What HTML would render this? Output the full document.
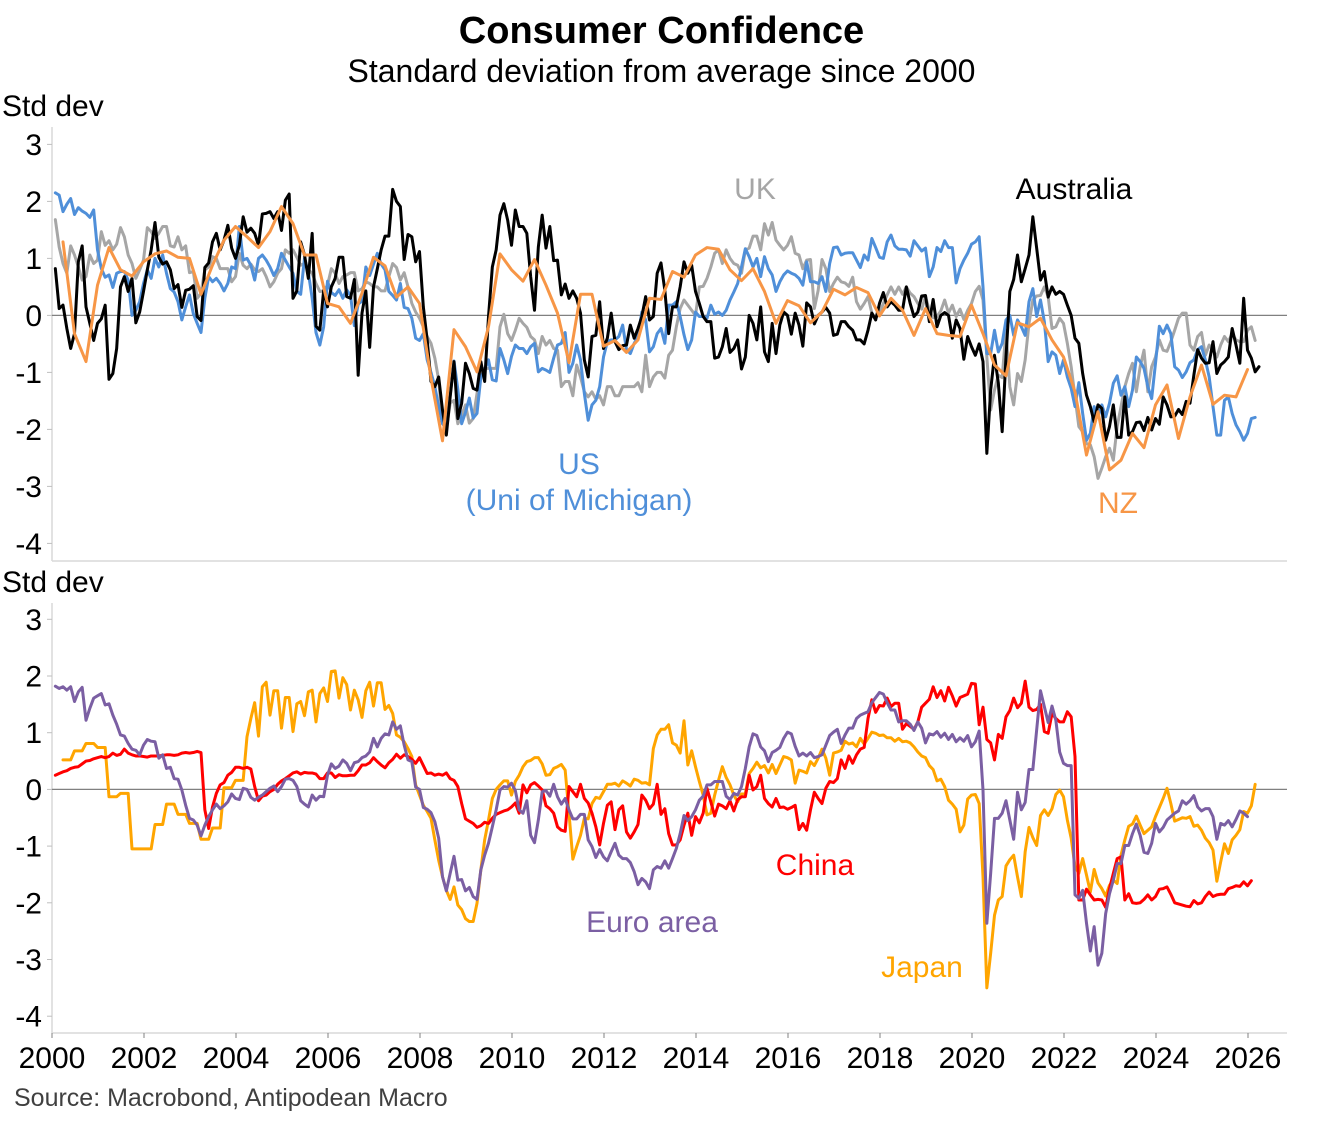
<!DOCTYPE html>
<html lang="en">
<head>
<meta charset="utf-8">
<title>Consumer Confidence</title>
<style>
html,body{margin:0;padding:0;background:#fff;}
svg{display:block;font-family:"Liberation Sans",Arial,sans-serif;}
</style>
</head>
<body>
<svg id="chart" xmlns="http://www.w3.org/2000/svg" width="1323" height="1122" viewBox="0 0 1323 1122">
<rect width="1323" height="1122" fill="#ffffff"/>
<text x="661.5" y="43" text-anchor="middle" font-size="38" font-weight="bold" fill="#000">Consumer Confidence</text>
<text x="661.5" y="82" text-anchor="middle" font-size="32" fill="#000">Standard deviation from average since 2000</text>
<text x="2" y="116" font-size="30" fill="#000">Std dev</text>
<text x="2" y="592" font-size="30" fill="#000">Std dev</text>
<g id="axes"></g>
<g id="series"></g>
<text x="755" y="199" text-anchor="middle" font-size="30" fill="#a6a6a6">UK</text>
<text x="1074" y="199" text-anchor="middle" font-size="30" fill="#000">Australia</text>
<text x="579" y="474" text-anchor="middle" font-size="30" fill="#4f8fd9">US</text>
<text x="579" y="510" text-anchor="middle" font-size="30" fill="#4f8fd9">(Uni of Michigan)</text>
<text x="1118" y="513" text-anchor="middle" font-size="30" fill="#f79646">NZ</text>
<text x="815" y="875" text-anchor="middle" font-size="30" fill="#ff0000">China</text>
<text x="652" y="932" text-anchor="middle" font-size="30" fill="#7b5fa3">Euro area</text>
<text x="922" y="977" text-anchor="middle" font-size="30" fill="#ffa500">Japan</text>
<text x="14" y="1106" font-size="25" fill="#404040">Source: Macrobond, Antipodean Macro</text>
</svg>
<script>
const yearTicks = [2000,2002,2004,2006,2008,2010,2012,2014,2016,2018,2020,2022,2024,2026];
const valueTicks = [3,2,1,0,-1,-2,-3,-4];

const usValues = [2.15,2.11,1.82,1.95,2.05,1.77,1.89,1.83,1.79,1.72,1.85,1.15,.82,.67,.71,.49,.74,.77,.77,.62,0,.09,.24,.56,.8,.65,1,.85,1.06,.74,.47,.41,.24,-.08,.15,.36,.03,-.14,-.3,.3,.68,.59,.65,.56,.43,.56,.85,.82,1.56,.97,1,.88,.62,1,1.06,.97,.85,.7,.82,1.09,.97,.85,.74,.42,.37,1,.75,.3,-.3,-.52,-.2,.6,.4,.35,.45,.3,.45,.35,-.18,.2,.25,.85,.7,.9,1.09,.9,.8,.42,.35,.27,.56,.14,.12,-.05,-.4,-.44,-.32,-.78,-1,-1.25,-1.6,-1.9,-1.95,-1.4,-.8,-1.3,-1.9,-1.7,-1.45,-1.8,-1.72,-1.08,-.95,-.78,-1.13,-1.15,-.58,-.78,-1.02,-.72,-.52,-.58,-.58,-.67,-.55,-.49,-.99,-.93,-.96,-1,-.75,-.52,-.49,-.3,-1,-.84,-.52,-.78,-1.37,-1.84,-1.57,-1.49,-1.25,-.73,-.46,-.43,-.43,-.37,-.17,-.6,-.67,-.49,-.37,.06,-.08,-.64,-.55,-.32,-.23,-.49,.18,.18,.24,-.02,-.34,-.6,-.43,.06,-.02,-.02,-.05,.18,.02,.06,0,.09,.27,.41,.56,.85,1.17,1.03,.85,1,.68,1.03,.82,.71,.42,.59,.71,.78,.74,.71,.65,.53,.94,.59,.59,.56,.68,.42,.91,1.19,1.2,1.06,1.09,1.1,1.1,.97,.84,1.06,.97,1.35,1.19,1.02,1,1.29,1.41,1.22,1.16,1.16,1.15,1.04,1.31,1.22,1.13,1.18,.68,.85,1.19,1.12,1.31,1.19,1.19,.57,.82,.97,1.09,1.25,1.29,1.38,.5,-.67,-.67,-.26,-.64,-.49,-.08,0,-.35,-.08,-.2,-.35,.24,.47,-.02,.27,-.11,-.81,-.64,-.7,-1.02,-.78,-1.08,-1.28,-1.6,-1.18,-1.72,-2.19,-2.07,-1.6,-1.78,-1.57,-1.78,-1.54,-1.19,-1.06,-1.4,-1.25,-1.6,-1.31,-.73,-.81,-.93,-1.25,-1.46,-.84,-.19,-.32,-.17,-.32,-.9,-.96,-1.09,-.99,-.83,-.78,-.6,-.55,-.78,-1.08,-1.6,-2.1,-2.1,-1.49,-1.43,-1.72,-1.92,-2.04,-2.19,-2.07,-1.81,-1.79];

const australiaValues = [.82,.12,.18,-.23,-.58,-.32,.94,1.22,.15,-.14,-.44,-.14,-.06,.18,-1.12,-1.02,-.58,.5,.68,.42,.65,-.13,.06,.42,.8,1.15,1.63,1.02,.9,.94,.8,.47,.54,.14,.44,.46,.52,-.02,-.09,.84,.92,1.29,1.44,1.15,1.32,1.58,1.18,1,1.23,1.73,1.46,1.53,1.44,1.23,1.78,1.79,1.82,1.7,1.82,1.49,2.02,2.13,.3,.43,1.29,1.06,.65,1.44,-.19,-.26,.44,.15,.5,.65,1.02,1.02,.33,.3,.63,-1.05,.04,.43,-.56,.5,.82,1.15,1.39,1.39,2.21,2,1.91,.98,1.42,1.38,.94,1.12,.15,-.43,-1.16,-1.25,-1.08,-1.66,-2.1,-1.43,-.81,-1.81,-1.54,-.84,-1.02,-1.28,-1.31,-.81,-1.16,-.02,.85,1.15,1.76,1.96,1.67,1.23,1.85,1.56,1.56,1.44,.68,.09,1.2,1.76,1.18,1.56,.96,.97,.36,.55,.3,.43,.3,.04,-.78,-1.08,-.37,-.35,.24,-.58,-.4,.04,-.46,-.6,-.53,-.52,-.17,-.4,-.23,-.02,.33,-.08,-.02,.74,.92,.44,-.32,.15,.15,.5,.94,.74,.88,.42,.21,-.02,-.11,-.11,-.75,-.73,-.55,-.23,-.65,-.58,-.43,-.94,-.73,0,-.14,-.43,.15,-.64,-.81,-.14,-.67,-.17,.06,0,-.33,.04,-.17,-.54,.22,.15,-.15,0,.06,.14,.04,-.35,-.33,-.11,-.11,-.2,-.26,-.43,-.43,-.5,-.26,.04,-.08,.21,.4,.15,.24,.18,.09,.09,.5,.21,-.02,.06,.34,.35,-.11,.28,-.2,0,.05,0,-.4,-.08,-.23,-.77,-.37,-.55,-.7,-.5,-.81,-2.42,-1.31,-.7,-1.19,-2.04,-.73,.42,.63,1.06,.59,.82,1.06,1.73,1.18,.62,.77,.32,.5,.37,.42,.37,.18,0,-.4,-.49,-1.02,-1.4,-1.6,-1.87,-1.57,-1.63,-2.19,-1.95,-1.57,-2.14,-2.14,-1.43,-2.1,-2.04,-1.88,-1.87,-2.02,-1.79,-2.01,-1.81,-1.91,-1.43,-1.57,-1.78,-1.77,-1.65,-1.74,-1.51,-1.54,-1.05,-.6,-.75,-.84,-.83,-.46,-1.02,-.87,-.81,-.73,-.23,-.52,-.84,.3,-.61,-.75,-.99,-.9];

const ukValues = [1.68,1.2,.91,.74,1.22,1.06,.85,.62,.68,1.06,.91,.97,1.47,1.23,1.31,1.15,1.25,1.54,1.38,1.06,.91,.65,.8,.97,1.54,1.47,1.35,1.44,1.56,1.56,1.22,1.2,1.38,1.15,1.22,.75,.77,.3,.39,.8,.85,1.03,1,.82,.82,.82,.59,.68,1.09,.88,.82,.9,.8,.77,.82,.68,.5,.59,.74,.82,1.15,1.09,1.15,1.02,.88,.91,.8,.74,.56,.42,.43,.53,.82,.74,.56,.68,.71,.75,.75,.43,.47,.59,.56,.5,.5,.43,.43,.68,.91,.84,.62,.75,.5,.21,.06,-.05,-.2,-.37,-.49,-.75,-1.13,-1.9,-2,-1.54,-1.49,-1.9,-1.75,-1.57,-1.89,-1.81,-1.37,-.96,-.93,-.93,-.93,-.93,-.2,.02,-.32,-.44,-.26,-.05,-.14,-.21,-.37,-.43,-.67,-.37,-.52,-.44,-.58,-.61,-1.25,-1.16,-1.16,-1.41,-.87,-1.08,-1.34,-1.43,-1.34,-1.47,-1.41,-1.57,-1.25,-1.25,-1.41,-1.41,-1.25,-1.25,-1.25,-1.25,-1.18,-1.34,-.7,-1.25,-1.08,-1,-1,-1.1,-.7,-.61,-.2,.12,.27,.18,.09,0,.5,.51,.65,.85,1.09,1.15,.91,1.15,1,.91,.88,.74,1.15,1.18,1.39,1.39,1.15,1.61,1.41,1.63,1.32,1.23,1.15,1.23,1.38,1.09,1.06,.82,.97,.98,.12,.44,.98,.82,.42,.56,.67,.59,.57,.51,.67,.24,.11,.21,.33,.04,-.05,.04,.21,.36,.5,.37,.5,.37,.5,.39,.33,.21,.11,.33,.09,-.04,-.02,.08,.27,.04,.18,-.02,.11,-.07,.09,.21,.42,.51,.27,-.73,-1.66,-1.31,-1.05,-1.09,-.26,-1.25,-1.57,-1.02,-1.16,-.78,-.14,.27,.34,.35,.5,.33,-.23,-.2,-.05,-.14,-.49,-.9,-1.43,-1.95,-2.04,-2.25,-2.27,-2.48,-2.86,-2.68,-2.48,-2.33,-2.54,-1.95,-1.6,-1.25,-1.02,-.84,-1.34,-.9,-.61,-1.34,-.9,-.73,-.43,-.61,-.63,-.46,-.26,-.05,.04,.04,-.52,-.61,-.37,-.3,-.7,-.52,-.61,-.73,-.52,-.37,-.46,-.32,-.43,-.46,-.46,-.26,-.2,-.44];

const nzValues = [1.29,-.32,-.81,.53,1.19,.8,.69,.94,1.08,1.13,1.02,1,.37,.88,1.32,1.56,1.38,1.19,1.47,1.91,1.61,1.06,1.06,.21,.15,-.14,.39,1.02,.87,.32,.5,.21,-1.1,-2.2,-.25,-.55,-.99,-.2,1.08,.8,.6,.98,.53,.04,-.83,.37,.37,-.54,-.44,-.65,-.43,.3,.28,.77,.67,1.06,1.19,1.16,.8,.61,.82,.42,-.14,.26,.17,-.13,.06,.46,.36,.49,.4,-.01,.3,.09,-.35,.12,-.32,-.35,-.37,.18,-.32,-.87,-1.06,-.13,-.2,-.05,-.43,-.73,-1.34,-2.45,-1.69,-2.71,-2.54,-2.07,-2.32,-1.57,-1.22,-2.16,-1.43,-.87,-1.56,-1.4,-1.43,-.95];

const chinaValues = [.25,.28,.31,.33,.37,.39,.4,.45,.5,.51,.54,.56,.58,.56,.58,.64,.6,.62,.71,.64,.61,.59,.59,.58,.57,.59,.59,.59,.6,.61,.61,.6,.61,.64,.65,.64,.65,.67,.65,-.36,-.69,-.31,-.07,.08,.12,.25,.3,.39,.39,.37,.39,.36,.05,-.2,-.12,-.1,-.04,0,.09,.15,.19,.24,.29,.31,.27,.3,.29,.29,.27,.19,.19,.29,.29,.21,.26,.24,.24,.25,.25,.33,.43,.43,.47,.56,.49,.43,.38,.47,.53,.62,.55,.61,.58,.53,.46,.56,.42,.28,.29,.25,.27,.25,.29,.19,.16,.05,-.25,-.52,-.56,-.6,-.67,-.64,-.58,-.6,-.51,-.44,-.41,-.38,-.36,-.31,-.24,-.42,.08,-.06,.08,.12,.06,-.01,-.29,-.34,-.42,-.66,-.72,-.74,.05,-.04,-.13,.09,-.16,-.24,-.42,-.66,-.98,-.6,-.28,-.22,-.71,-.36,-.29,-.75,-.86,-.75,-.62,-.1,-.19,-.34,-.26,.09,-.44,-.34,-.78,-.98,-.98,-.89,-.63,-.42,-.81,-.48,-.59,-.42,.02,-.22,-.47,-.26,-.29,-.34,-.2,-.38,-.18,-.13,-.13,.25,-.01,.05,.25,-.16,-.25,-.31,-.16,-.32,-.31,-.35,-.32,-.28,-.71,-.6,-.72,-.36,-.05,-.16,-.25,.02,.14,.12,.19,.52,.37,.59,.46,.61,.71,.74,1.25,1.58,1.36,1.48,1.47,1.61,1.46,1.52,1.52,1.06,1.16,1.11,1.06,1.19,1.45,1.52,1.59,1.81,1.62,1.74,1.56,1.8,1.65,1.47,1.62,1.65,1.68,1.87,1.86,1.14,1.45,.88,.82,.52,.97,.9,1.28,1.39,1.61,1.44,1.52,1.91,1.45,1.39,1.41,1.5,1.02,.99,1.34,1.25,1.19,1.19,1.37,1.28,.58,-1.95,-1.95,-1.76,-1.86,-1.95,-1.94,-1.95,-2.08,-1.75,-1.48,-1.22,-1.19,-1.95,-1.84,-2,-2.01,-2,-1.94,-1.86,-1.95,-1.89,-1.76,-1.75,-1.72,-1.85,-2,-2.02,-2.04,-2.06,-2.07,-1.96,-2.02,-2,-1.89,-1.81,-1.89,-1.86,-1.85,-1.85,-1.75,-1.73,-1.7,-1.71,-1.63,-1.7,-1.61];

const euroValues = [1.82,1.78,1.81,1.75,1.81,1.55,1.72,1.8,1.22,1.43,1.61,1.65,1.69,1.49,1.51,1.31,1.15,.96,.94,.81,.71,.69,.61,.78,.88,.85,.84,.55,.61,.37,.39,.19,.18,-.01,-.28,-.51,-.54,-.63,-.82,-.63,-.48,-.36,-.26,-.34,-.29,-.22,-.08,-.16,-.18,.02,0,-.14,-.19,-.14,-.1,-.04,.02,.06,-.04,.05,.18,.19,.16,.05,-.2,-.26,-.31,-.1,-.19,-.12,-.13,.25,.45,.37,.41,.52,.46,.33,.47,.49,.56,.59,.66,.9,.75,.9,.98,.96,1.19,1.06,1.12,.78,.52,.49,.04,0,-.32,-.35,-.41,-.57,-.86,-1.54,-1.79,-1.48,-1.18,-1.6,-1.59,-1.79,-1.73,-1.89,-1.94,-1.42,-1.16,-.95,-.66,-.36,-.01,.05,.04,.11,-.02,-.36,-.42,-.2,-.81,-.94,-.54,-.04,-.02,-.12,.09,-.13,-.26,-.16,-.36,-.52,-.52,-.44,-.44,-.89,-1.01,-1.2,-1.06,-1.19,-1.26,-1.1,-.95,-1.16,-1.22,-1.22,-1.29,-1.45,-1.68,-1.57,-1.63,-1.75,-1.42,-1.36,-1.39,-1.26,-1.39,-1.22,-1.04,-.78,-.46,-.55,-.48,-.36,-.19,-.12,.08,.08,.14,.14,.14,-.12,-.18,-.07,-.1,.05,.37,.75,.98,.95,.75,.68,.49,.65,.69,.74,.9,1.01,.98,.76,.59,.64,.59,.65,.56,.58,.61,.78,.95,1.01,1.06,.81,.96,1.08,1.08,1.25,1.31,1.34,1.37,1.53,1.62,1.71,1.68,1.53,1.4,1.4,1.19,1.21,1.21,1.15,1.04,1.19,1.08,.82,.98,.96,1.02,.92,.99,.88,.97,.84,.91,.85,.95,.75,.84,1.03,-.01,-2.36,-1.48,-.51,-.51,-.42,-.2,-.54,-.88,-.05,-.36,-.23,.35,.35,1.05,1.74,1.46,1.18,1.47,1.22,.66,.46,.42,.42,-1.86,-1.92,-1.78,-2.36,-2.85,-2.42,-3.1,-2.89,-2.19,-1.84,-1.6,-1.31,-1.31,-.99,-.99,-.78,-.61,-.81,-1.11,-1.13,-.95,-.6,-.75,-.67,-.54,-.48,-.42,-.38,-.2,-.26,-.2,-.11,-.31,-.38,-.34,-.34,-.48,-.88,-.6,-.63,-.55,-.66,-.53,-.38,-.42,-.48];

const japanValues = [.52,.52,.52,.68,.68,.68,.81,.81,.81,.74,.74,.74,-.13,-.13,-.13,-.07,-.07,-.07,-1.05,-1.05,-1.05,-1.05,-1.05,-1.05,-.62,-.62,-.62,-.26,-.26,-.26,-.44,-.44,-.44,-.6,-.6,-.6,-.88,-.88,-.88,-.68,-.68,-.68,.03,.03,.03,.16,.16,.16,.93,1.25,1.53,.94,1.81,1.89,1.31,1.74,1.74,1.08,1.62,1.62,1.02,1.51,1.55,1.3,1.72,1.75,1.19,1.69,1.79,1.55,2.08,2.09,1.61,1.97,1.85,1.4,1.75,1.58,1.27,1.74,1.89,1.47,1.88,1.88,1.41,1.48,1.34,.96,.92,.84,.72,.58,.08,-.1,-.28,-.39,-.51,-.89,-1.25,-1.54,-1.78,-1.94,-1.72,-2.04,-2.12,-2.28,-2.33,-2.33,-2.01,-1.42,-.89,-.54,-.16,0,.08,.15,.15,-.1,.14,.25,.4,.49,.51,.56,.56,.45,.25,.26,.37,.4,.44,.34,-.42,-1.23,-1.01,-.81,-.51,-.52,-.25,-.14,-.16,-.04,.09,.09,.11,.06,.15,.11,.06,.18,.16,.11,.12,.08,.72,.96,1.06,1.06,1.14,.82,.78,.64,1.21,.43,.68,.4,.14,-.1,-.45,-.42,-.1,.16,.4,.21,.08,-.1,-.22,-.08,-.07,.28,.37,.48,.38,.42,.29,.44,.28,.43,.58,.56,.52,.11,.34,.32,.29,.49,.42,.55,.71,.55,.25,.64,.66,.69,.85,.8,.82,.75,.9,.8,.9,1.01,.99,.95,.96,.91,.91,.85,.9,.84,.85,.82,.75,.66,.59,.56,.42,.35,.15,.18,.05,-.19,-.26,-.35,-.75,-.63,-.17,-.1,-.09,-.25,-1.54,-3.5,-2.89,-2.22,-1.95,-1.89,-1.35,-1.24,-1.16,-1.54,-1.89,-1.1,-.67,-.85,-.99,-.46,-.36,-.46,-.34,-.09,-.01,-.13,-.54,-.86,-1.36,-1.48,-1.22,-1.51,-1.81,-1.41,-1.65,-1.75,-1.88,-1.69,-1.6,-1.66,-1.16,-.89,-.65,-.61,-.47,-.63,-.78,-.72,-.66,-.48,-.32,-.16,.02,-.25,-.56,-.53,-.5,-.51,-.48,-.65,-.63,-.72,-.86,-.94,-1.07,-1.62,-1.28,-.96,-1.13,-.89,-.81,-.71,-.39,-.42,-.29,.09];

const SVGNS = 'http://www.w3.org/2000/svg';
const axesGroup = document.getElementById('axes');
const seriesGroup = document.getElementById('series');

function xScale(monthIndex){ return 52 + 46 * (monthIndex + 0.87) / 12; }
function yearX(year){ return 52 + 46 * (year - 2000); }
function yTop(v){ return 315.4 - 57 * v; }
function yBottom(v){ return 789.4 - 56.7 * v; }

function shape(tag, attrs, parent){
  const el = document.createElementNS(SVGNS, tag);
  for (const k in attrs) el.setAttribute(k, attrs[k]);
  parent.appendChild(el);
  return el;
}

function drawPanel(yScale, topEdge, bottomEdge, panel){
  const spine = shape('line', {x1:52, x2:52, y1:topEdge, y2:bottomEdge, stroke:'#d9d9d9', 'stroke-width':1.5}, axesGroup);
  
  
  const base = shape('line', {x1:52, x2:1287, y1:bottomEdge, y2:bottomEdge, stroke:'#d9d9d9', 'stroke-width':1.5}, axesGroup);
  
  
  const zero = shape('line', {x1:52, x2:1287, y1:yScale(0), y2:yScale(0), stroke:'#808080', 'stroke-width':1.2}, axesGroup);
  
  
  valueTicks.forEach(function(v){
    const tick = shape('line', {x1:47, x2:52, y1:yScale(v), y2:yScale(v), stroke:'#bfbfbf', 'stroke-width':1}, axesGroup);
    
    
    const label = shape('text', {x:42, y:yScale(v) + 10.5, 'text-anchor':'end', 'font-size':30, fill:'#000'}, axesGroup);
    
    
    label.textContent = String(v);
  });
}

function drawSeries(values, startIndex, step, yScale, color, name){
  const pts = values.map(function(v, i){
    return (i ? 'L' : 'M') + xScale(startIndex + i * step).toFixed(2) + ' ' + yScale(v).toFixed(2);
  }).join('');
  const path = shape('path', {d:pts, fill:'none', stroke:color, 'stroke-width':3, 'stroke-linejoin':'round', 'stroke-linecap':'round'}, seriesGroup);
  
  
}

drawPanel(yTop, 127, 561, 'top');
drawPanel(yBottom, 603, 1033, 'bottom');

yearTicks.forEach(function(year){
  const tick = shape('line', {x1:yearX(year), x2:yearX(year), y1:1033, y2:1038, stroke:'#808080', 'stroke-width':1}, axesGroup);
  
  
  const label = shape('text', {x:yearX(year), y:1068, 'text-anchor':'middle', 'font-size':30, fill:'#000'}, axesGroup);
  
  
  label.textContent = String(year);
});

drawSeries(ukValues, 0, 1, yTop, '#a6a6a6', 'uk-line');
drawSeries(usValues, 0, 1, yTop, '#4f8fd9', 'us-line');
drawSeries(australiaValues, 0, 1, yTop, '#000000', 'australia-line');
drawSeries(nzValues, 2, 3, yTop, '#f79646', 'nz-line');
drawSeries(japanValues, 2, 1, yBottom, '#ffa500', 'japan-line');
drawSeries(chinaValues, 0, 1, yBottom, '#ff0000', 'china-line');
drawSeries(euroValues, 0, 1, yBottom, '#7b5fa3', 'euro-area-line');
</script>
</body>
</html>
